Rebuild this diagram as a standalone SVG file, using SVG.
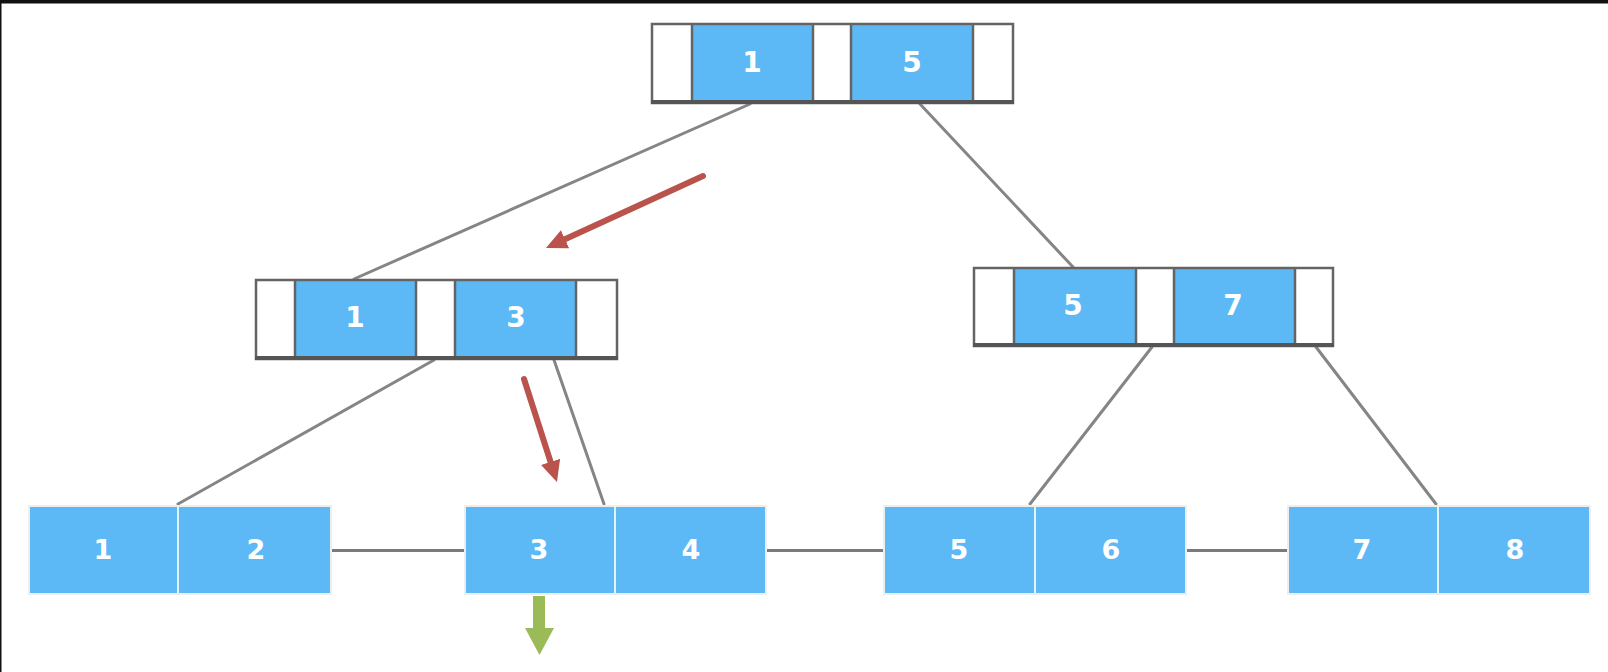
<svg xmlns="http://www.w3.org/2000/svg" width="1608" height="672" viewBox="0 0 1608 672">
  <defs>
    <style>
      .frame { fill: #111111; }
      .key { fill: #5cb9f6; }
      .ptr { fill: #ffffff; }
      .outline { fill: none; stroke: #646464; stroke-width: 2.5; }
      .base { stroke: #555555; stroke-width: 4; }
      .sep { stroke: #646464; stroke-width: 2.5; }
      .leaf { fill: #5cb9f6; stroke: #eeeeee; stroke-width: 2; }
      .leafsep { stroke: #e4f2fc; stroke-width: 2; }
      .num { font-family: "DejaVu Sans", Verdana, sans-serif; font-weight: bold; fill: #ffffff; text-anchor: middle; }
      .inner { font-size: 28px; }
      .small { font-size: 27px; }
      .edge { stroke: #858585; stroke-width: 3; fill: none; stroke-linecap: round; }
      .chain { stroke: #7a7a7a; stroke-width: 3; fill: none; }
      .path { stroke: #b9534c; stroke-width: 6; fill: none; stroke-linecap: round; marker-end: url(#redHead); }
    </style>
    <marker id="redHead" markerUnits="userSpaceOnUse" markerWidth="24" markerHeight="22" refX="8" refY="10" orient="auto">
      <path d="M0,0 L21,10 L0,20 z" fill="#b9534c"/>
    </marker>
  </defs>

  <rect width="1608" height="672" fill="#ffffff"/>
  <rect class="frame" x="0" y="0" width="1608" height="3.5"/>
  <rect class="frame" x="0" y="0" width="1.5" height="672"/>

  <!-- tree edges and leaf chain -->
  <g id="connectors">
    <line class="edge" x1="750" y1="104" x2="354" y2="279"/>
    <line class="edge" x1="920" y1="104" x2="1073" y2="267"/>
    <line class="edge" x1="434" y1="360" x2="178" y2="504"/>
    <line class="edge" x1="554" y1="360" x2="604" y2="504"/>
    <line class="edge" x1="1152" y1="347" x2="1030" y2="504"/>
    <line class="edge" x1="1316" y1="347" x2="1436" y2="504"/>
    <line class="chain" x1="331" y1="550.5" x2="465" y2="550.5"/>
    <line class="chain" x1="766" y1="550.5" x2="884" y2="550.5"/>
    <line class="chain" x1="1186" y1="550.5" x2="1288" y2="550.5"/>
  </g>

  <!-- search path -->
  <g id="search-path">
    <line class="path" x1="703" y1="176" x2="557.8" y2="242.6"/>
    <line class="path" x1="524" y1="379" x2="553" y2="469.5"/>
    <polygon id="result" points="533,596 545,596 545,628 554,628 539.5,655 525,628 533,628" fill="#9bbb59"/>
  </g>

  <!-- root -->
  <g id="root">
    <rect class="ptr" x="652" y="24" width="361" height="79"/>
    <rect class="key" x="692" y="24" width="121" height="79"/>
    <rect class="key" x="851" y="24" width="122" height="79"/>
    <line class="sep" x1="692" y1="24" x2="692" y2="103"/>
    <line class="sep" x1="813" y1="24" x2="813" y2="103"/>
    <line class="sep" x1="851" y1="24" x2="851" y2="103"/>
    <line class="sep" x1="973" y1="24" x2="973" y2="103"/>
    <rect class="outline" x="652" y="24" width="361" height="79"/>
    <line class="base" x1="651" y1="102" x2="1014" y2="102"/>
    <text class="num inner" x="752" y="72">1</text>
    <text class="num inner" x="912" y="72">5</text>
  </g>

  <!-- inner node, left -->
  <g id="inner-left">
    <rect class="ptr" x="256" y="280" width="361" height="79"/>
    <rect class="key" x="295" y="280" width="121" height="79"/>
    <rect class="key" x="455" y="280" width="121" height="79"/>
    <line class="sep" x1="295" y1="280" x2="295" y2="359"/>
    <line class="sep" x1="416" y1="280" x2="416" y2="359"/>
    <line class="sep" x1="455" y1="280" x2="455" y2="359"/>
    <line class="sep" x1="576" y1="280" x2="576" y2="359"/>
    <rect class="outline" x="256" y="280" width="361" height="79"/>
    <line class="base" x1="255" y1="358" x2="618" y2="358"/>
    <text class="num inner" x="355" y="327">1</text>
    <text class="num inner" x="516" y="327">3</text>
  </g>

  <!-- inner node, right -->
  <g id="inner-right">
    <rect class="ptr" x="974" y="268" width="359" height="78"/>
    <rect class="key" x="1014" y="268" width="122" height="78"/>
    <rect class="key" x="1174" y="268" width="121" height="78"/>
    <line class="sep" x1="1014" y1="268" x2="1014" y2="346"/>
    <line class="sep" x1="1136" y1="268" x2="1136" y2="346"/>
    <line class="sep" x1="1174" y1="268" x2="1174" y2="346"/>
    <line class="sep" x1="1295" y1="268" x2="1295" y2="346"/>
    <rect class="outline" x="974" y="268" width="359" height="78"/>
    <line class="base" x1="973" y1="345" x2="1334" y2="345"/>
    <text class="num inner" x="1073" y="315">5</text>
    <text class="num inner" x="1233" y="315">7</text>
  </g>

  <!-- leaves -->
  <g id="leaf-1-2">
    <rect class="leaf" x="29" y="506" width="302" height="88"/>
    <line class="leafsep" x1="178" y1="506" x2="178" y2="594"/>
    <text class="num small" x="103" y="559">1</text>
    <text class="num small" x="256" y="559">2</text>
  </g>
  <g id="leaf-3-4">
    <rect class="leaf" x="465" y="506" width="301" height="88"/>
    <line class="leafsep" x1="615" y1="506" x2="615" y2="594"/>
    <text class="num small" x="539" y="559">3</text>
    <text class="num small" x="691" y="559">4</text>
  </g>
  <g id="leaf-5-6">
    <rect class="leaf" x="884" y="506" width="302" height="88"/>
    <line class="leafsep" x1="1035" y1="506" x2="1035" y2="594"/>
    <text class="num small" x="959" y="559">5</text>
    <text class="num small" x="1111" y="559">6</text>
  </g>
  <g id="leaf-7-8">
    <rect class="leaf" x="1288" y="506" width="302" height="88"/>
    <line class="leafsep" x1="1438" y1="506" x2="1438" y2="594"/>
    <text class="num small" x="1362" y="559">7</text>
    <text class="num small" x="1515" y="559">8</text>
  </g>
</svg>
